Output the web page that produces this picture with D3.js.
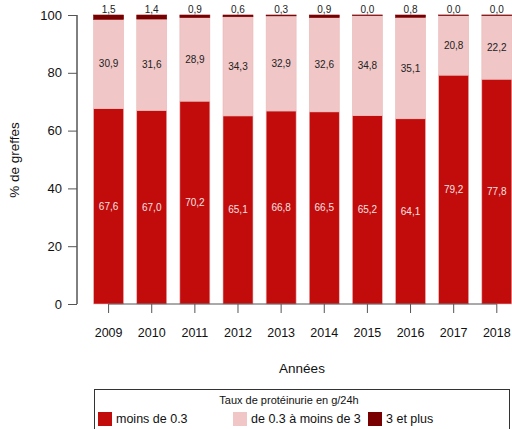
<!DOCTYPE html>
<html>
<head>
<meta charset="utf-8">
<script src="https://cdn.jsdelivr.net/npm/d3@7"></script>
<style>
  body { margin: 0; background: #fff; }
  svg { display: block; font-family: "Liberation Sans", Arial, sans-serif; }
</style>
</head>
<body>
<svg id="chart" width="512" height="429"></svg>
<script>
// Proteinuria level shares per year (%)
const years = ["2009", "2010", "2011", "2012", "2013", "2014", "2015", "2016", "2017", "2018"];
const low = [67.6, 67.0, 70.2, 65.1, 66.8, 66.5, 65.2, 64.1, 79.2, 77.8];
const mid = [30.9, 31.6, 28.9, 34.3, 32.9, 32.6, 34.8, 35.1, 20.8, 22.2];
const high = [1.5, 1.4, 0.9, 0.6, 0.3, 0.9, 0.0, 0.8, 0.0, 0.0];
const seriesNames = ["moins de 0.3", "de 0.3 à moins de 3", "3 et plus"];
const yTicks = [0, 20, 40, 60, 80, 100];

const colors = ["#c20b0b", "#f0c6c6", "#780000"];
const labelColors = ["#f6e2e2", "#222", "#222"];

const svg = d3.select("#chart");
const x = d3.scaleBand().domain(years).range([86.7, 518.7]).paddingInner(0.305).paddingOuter(0.16);
const y = d3.scaleLinear().domain([0, 100]).range([304, 15]);

const rows = years.map((yr, i) => ({ year: yr, low: low[i], mid: mid[i], high: high[i] }));
const stack = d3.stack().keys(["low", "mid", "high"])(rows);

const fmt = v => v.toFixed(1).replace(".", ",");

// Stacked bars
stack.forEach((layer, li) => {
  svg.append("g").selectAll("rect").data(layer).join("rect")
    .attr("x", d => x(d.data.year))
    .attr("width", x.bandwidth())
    .attr("y", d => y(d[1]))
    .attr("height", d => Math.max(y(d[0]) - y(d[1]), 0.6))
    .attr("fill", colors[li])
    .attr("stroke", li === 2 ? colors[2] : "#eab8b8")
    .attr("stroke-width", 0.6);
});

// Segment labels: centred for the two lower segments, above the bar for the top one
stack.forEach((layer, li) => {
  svg.append("g").selectAll("text").data(layer).join("text")
    .attr("x", d => x(d.data.year) + x.bandwidth() / 2)
    .attr("y", d => li === 2 ? y(100) - 2 : y((d[0] + d[1]) / 2) + 3.5)
    .attr("text-anchor", "middle")
    .attr("font-size", "10px")
    .attr("fill", labelColors[li])
    .text(d => fmt(d[1] - d[0]));
});

// Y axis
const yAxis = svg.append("g").attr("transform", "translate(77,0)")
  .call(d3.axisLeft(y).tickValues(yTicks).tickSize(9).tickPadding(6).tickFormat(d3.format("d")));
yAxis.select(".domain").attr("d", `M0,${y(0)}V${y(100)}`).attr("stroke", "#000");
yAxis.selectAll(".tick line").attr("stroke", "#555");
yAxis.selectAll("text").attr("font-size", "13px").attr("fill", "#111")
  .attr("font-family", "Liberation Sans, Arial, sans-serif");

// X axis
const xAxis = svg.append("g").attr("transform", `translate(0,${y(0)})`)
  .call(d3.axisBottom(x).tickSize(9).tickPadding(15));
const first = x(years[0]) + x.bandwidth() / 2, last = x(years[years.length - 1]) + x.bandwidth() / 2;
xAxis.select(".domain").attr("d", `M${first},0H${last}`).attr("stroke", "#555");
xAxis.selectAll(".tick line").attr("stroke", "#555");
xAxis.selectAll("text").attr("font-size", "12.5px").attr("fill", "#111")
  .attr("font-family", "Liberation Sans, Arial, sans-serif");

// Axis titles
svg.append("text").attr("x", 302).attr("y", 373).attr("text-anchor", "middle")
  .attr("font-size", "13.5px").attr("fill", "#111").text("Années");
svg.append("text").attr("transform", "translate(19,160) rotate(-90)").attr("text-anchor", "middle")
  .attr("font-size", "13.5px").attr("fill", "#111").text("% de greffes");

// Legend
const lg = svg.append("g");
lg.append("rect").attr("x", 94.5).attr("y", 389.5).attr("width", 415).attr("height", 50)
  .attr("fill", "none").attr("stroke", "#333").attr("stroke-width", 1);
lg.append("text").attr("x", 289).attr("y", 403.5).attr("text-anchor", "middle")
  .attr("font-size", "11px").attr("fill", "#111").text("Taux de protéinurie en g/24h");
const legendX = [98, 233, 368];
seriesNames.forEach((name, i) => {
  lg.append("rect").attr("x", legendX[i]).attr("y", 412).attr("width", 14).attr("height", 14)
    .attr("fill", colors[i]);
  lg.append("text").attr("x", legendX[i] + 18).attr("y", 422.5)
    .attr("font-size", "12.5px").attr("fill", "#111").text(name);
});
</script>
</body>
</html>
